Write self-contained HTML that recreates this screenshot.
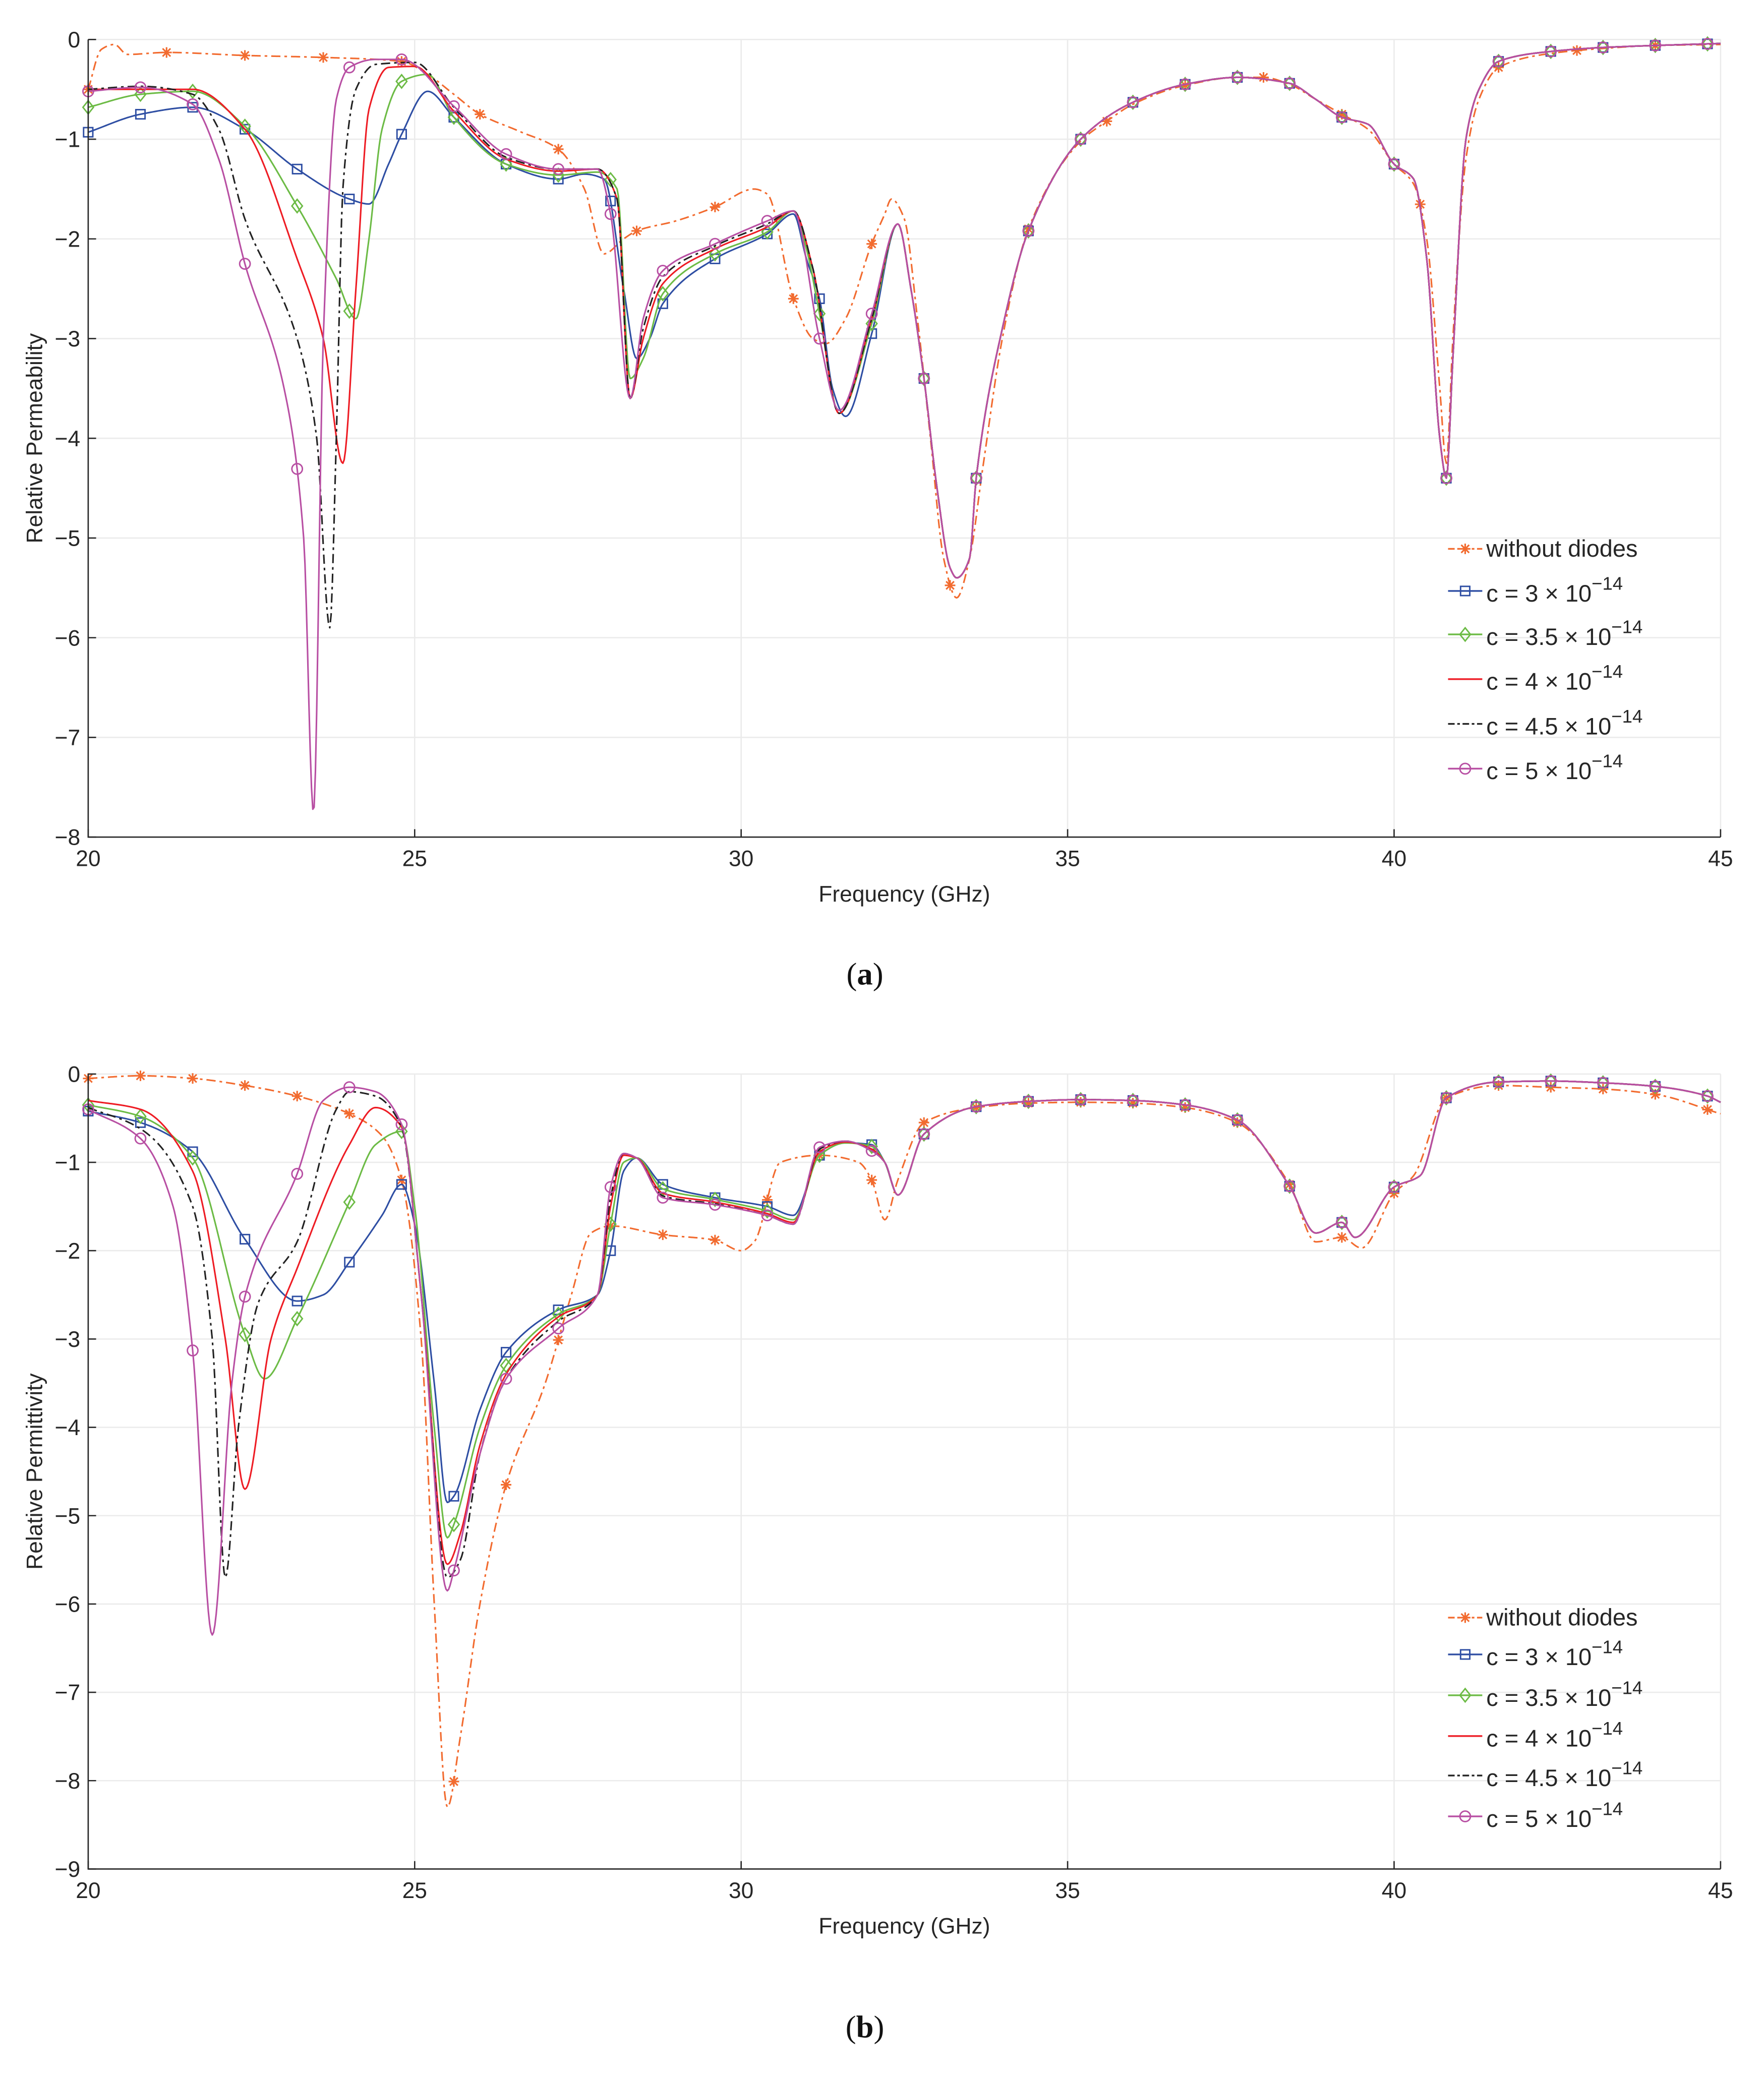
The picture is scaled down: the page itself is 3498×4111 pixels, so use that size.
<!DOCTYPE html>
<html><head><meta charset="utf-8"><style>
html,body{margin:0;padding:0;background:#fff;}
svg{display:block;}
text{font-family:"Liberation Sans",Arial,sans-serif;}
text.cap{font-family:"Liberation Serif",serif;}
</style></head><body>
<svg id="fig" width="3498" height="4111" viewBox="0 0 1340 1575" preserveAspectRatio="none" xmlns="http://www.w3.org/2000/svg"></svg>
<script>
// ---------- DATA ----------
const xTicks = [20,25,30,35,40,45];
const yTicksA = [0,-1,-2,-3,-4,-5,-6,-7,-8];
const yTicksB = [0,-1,-2,-3,-4,-5,-6,-7,-8,-9];
const seriesNames = ["without diodes","c = 3 × 10","c = 3.5 × 10","c = 4 × 10","c = 4.5 × 10","c = 5 × 10"];

const tailA = [[32.4,-1.85],[32.6,-2.5],[32.8,-3.4],[33,-4.5],[33.2,-5.3],[33.3,-5.4],[33.5,-5.2],[33.6,-4.4],[34,-2.9],[34.4,-1.92],[35.2,-1.0],[36,-0.63],[36.8,-0.45],[37.6,-0.38],[38.4,-0.44],[38.8,-0.6],[39.2,-0.78],[39.6,-0.85],[40,-1.25],[40.3,-1.4],[40.5,-2.2],[40.7,-4.0],[40.8,-4.4],[40.9,-3.2],[41.1,-1.0],[41.3,-0.5],[41.6,-0.22],[42.4,-0.12],[43.2,-0.08],[44,-0.06],[45,-0.04]];
const muNoDiode = [[20,-0.5],[20.2,-0.1],[20.4,-0.05],[20.6,-0.15],[21.2,-0.13],[22.4,-0.16],[23.6,-0.18],[24.8,-0.22],[25.2,-0.35],[25.6,-0.55],[26,-0.75],[26.6,-0.92],[27.2,-1.1],[27.6,-1.5],[27.9,-2.15],[28.2,-2.0],[28.4,-1.92],[29,-1.82],[29.6,-1.68],[30.2,-1.5],[30.4,-1.55],[30.8,-2.6],[31.1,-3.0],[31.3,-3.05],[31.6,-2.8],[32,-2.05],[32.2,-1.75],[32.3,-1.6],[32.5,-1.8],[32.7,-2.8],[32.9,-4.0],[33.1,-5.2],[33.3,-5.6],[33.5,-5.2],[33.7,-4.3],[34,-3.0],[34.4,-1.9],[35.2,-1.02],[35.6,-0.82],[36,-0.65],[36.8,-0.46],[37.6,-0.38],[38,-0.38],[38.4,-0.45],[38.8,-0.6],[39.2,-0.75],[39.6,-0.9],[40,-1.25],[40.3,-1.45],[40.5,-2.0],[40.7,-3.5],[40.8,-4.25],[40.9,-3.0],[41.1,-1.2],[41.3,-0.6],[41.6,-0.28],[42.4,-0.14],[43.2,-0.09],[44,-0.06],[45,-0.05]];
const muC3 = [[20,-0.93],[20.8,-0.75],[21.6,-0.68],[22.4,-0.9],[23.2,-1.3],[24,-1.6],[24.3,-1.65],[24.6,-1.25],[24.8,-0.95],[25.2,-0.52],[25.6,-0.78],[26.4,-1.25],[27.2,-1.4],[27.6,-1.35],[27.9,-1.4],[28.2,-2.5],[28.4,-3.2],[28.6,-3.0],[28.8,-2.65],[29.6,-2.2],[30.4,-1.95],[30.8,-1.75],[31,-2.2],[31.2,-2.6],[31.4,-3.5],[31.6,-3.78],[32,-2.95]];
const muC35 = [[20,-0.68],[20.8,-0.55],[21.6,-0.52],[22.4,-0.87],[23.2,-1.67],[23.8,-2.4],[24.1,-2.8],[24.3,-2.0],[24.5,-0.9],[24.8,-0.42],[25.2,-0.35],[25.6,-0.78],[26.4,-1.25],[27.2,-1.36],[27.8,-1.33],[28.1,-1.5],[28.3,-3.4],[28.5,-3.2],[28.8,-2.55],[29.6,-2.15],[30.4,-1.93],[30.8,-1.72],[31,-2.1],[31.2,-2.75],[31.5,-3.75],[32,-2.85]];
const muC4 = [[20,-0.5],[21.6,-0.5],[22.4,-0.9],[23.2,-2.2],[23.6,-3.0],[23.9,-4.25],[24.1,-2.5],[24.3,-0.7],[24.6,-0.28],[25,-0.27],[25.6,-0.72],[26.4,-1.2],[27.2,-1.32],[27.8,-1.3],[28.1,-1.6],[28.3,-3.6],[28.5,-3.0],[28.8,-2.45],[29.6,-2.1],[30.4,-1.88],[30.8,-1.72],[31.1,-2.3],[31.5,-3.75],[32,-2.8]];
const muC45 = [[20,-0.5],[20.8,-0.47],[21.6,-0.55],[22,-0.9],[22.4,-1.8],[23.2,-3.0],[23.5,-4.0],[23.7,-5.9],[23.8,-4.0],[23.9,-1.5],[24.1,-0.5],[24.4,-0.25],[25,-0.23],[25.6,-0.68],[26.4,-1.18],[27.2,-1.3],[27.8,-1.3],[28.1,-1.6],[28.3,-3.6],[28.5,-2.9],[28.8,-2.38],[29.6,-2.07],[30.4,-1.85],[30.8,-1.72],[31.1,-2.3],[31.5,-3.75],[32,-2.8]];
const muC5 = [[20,-0.52],[20.8,-0.48],[21.6,-0.65],[22,-1.2],[22.4,-2.25],[23,-3.5],[23.3,-5.0],[23.45,-7.75],[23.6,-3.0],[23.8,-0.6],[24,-0.28],[24.4,-0.2],[24.8,-0.2],[25.6,-0.67],[26.4,-1.15],[27.2,-1.3],[27.8,-1.3],[28,-1.75],[28.3,-3.6],[28.5,-2.8],[28.8,-2.32],[29.6,-2.05],[30.4,-1.82],[30.8,-1.72],[31.2,-3.0],[31.5,-3.72],[32,-2.75]];

const tailB = [[32.4,-1.37],[32.8,-0.68],[33.6,-0.37],[34.4,-0.31],[35.2,-0.29],[36,-0.3],[36.8,-0.35],[37.6,-0.52],[38.4,-1.27],[38.8,-1.8],[39.2,-1.68],[39.4,-1.85],[40,-1.28],[40.4,-1.15],[40.8,-0.27],[41.6,-0.09],[42.4,-0.08],[43.2,-0.1],[44,-0.14],[44.8,-0.25],[45,-0.32]];
const epsNoDiode = [[20,-0.05],[20.8,-0.02],[21.6,-0.05],[22.4,-0.13],[23.2,-0.25],[24,-0.45],[24.5,-0.7],[24.8,-1.2],[25.1,-3.0],[25.3,-6.0],[25.5,-8.3],[25.7,-7.5],[26,-6.0],[26.4,-4.65],[27,-3.5],[27.4,-2.5],[27.7,-1.8],[28,-1.72],[28.8,-1.82],[29.6,-1.88],[30,-2.0],[30.2,-1.9],[30.6,-1.0],[31.2,-0.92],[31.8,-1.0],[32,-1.2],[32.2,-1.65],[32.4,-1.2],[32.8,-0.55],[33.6,-0.38],[34.4,-0.33],[35.2,-0.32],[36,-0.33],[36.8,-0.38],[37.6,-0.55],[38.4,-1.25],[38.8,-1.9],[39.2,-1.85],[39.5,-1.97],[40,-1.35],[40.3,-1.15],[40.8,-0.27],[41.6,-0.13],[42.4,-0.15],[43.2,-0.17],[44,-0.23],[45,-0.45]];
const epsC3 = [[20,-0.42],[20.8,-0.55],[21.6,-0.88],[22.4,-1.87],[23.2,-2.57],[23.6,-2.5],[24,-2.13],[24.5,-1.6],[24.8,-1.25],[25,-1.7],[25.3,-3.5],[25.5,-4.85],[25.6,-4.78],[26,-3.8],[26.4,-3.15],[27.2,-2.67],[27.8,-2.5],[28,-2.0],[28.2,-1.1],[28.4,-0.95],[28.8,-1.25],[29.6,-1.4],[30.4,-1.5],[30.8,-1.6],[31.2,-0.92],[31.6,-0.78],[32,-0.8],[32.2,-1.0]];
const epsC35 = [[20,-0.35],[20.8,-0.48],[21.6,-0.95],[22.4,-2.95],[22.7,-3.45],[23.2,-2.77],[24,-1.45],[24.4,-0.8],[24.8,-0.65],[25,-1.5],[25.3,-4.0],[25.5,-5.25],[25.6,-5.1],[26,-4.0],[26.4,-3.3],[27.2,-2.72],[27.8,-2.5],[28,-1.7],[28.2,-1.0],[28.4,-0.95],[28.8,-1.3],[29.6,-1.42],[30.4,-1.55],[30.8,-1.65],[31.2,-0.92],[31.6,-0.78],[32,-0.82],[32.2,-1.0]];
const epsC4 = [[20,-0.3],[20.8,-0.4],[21.6,-1.1],[22.1,-3.0],[22.4,-4.7],[22.8,-3.0],[23.2,-2.2],[24,-0.8],[24.4,-0.38],[24.8,-0.6],[25.1,-2.5],[25.5,-5.55],[25.7,-5.2],[26,-4.2],[26.4,-3.4],[27.2,-2.75],[27.8,-2.5],[28,-1.5],[28.2,-0.92],[28.4,-0.95],[28.8,-1.35],[29.6,-1.45],[30.4,-1.58],[30.8,-1.68],[31.2,-0.88],[31.6,-0.77],[32,-0.85],[32.2,-1.0]];
const epsC45 = [[20,-0.38],[20.8,-0.62],[21.6,-1.5],[21.9,-3.0],[22.1,-5.7],[22.3,-4.0],[22.6,-2.6],[23.2,-1.9],[23.8,-0.4],[24,-0.2],[24.4,-0.25],[24.8,-0.6],[25.1,-2.5],[25.5,-5.7],[25.7,-5.5],[26,-4.3],[26.4,-3.45],[27.2,-2.8],[27.8,-2.5],[28,-1.4],[28.2,-0.9],[28.4,-0.95],[28.8,-1.38],[29.6,-1.47],[30.4,-1.6],[30.8,-1.7],[31.2,-0.85],[31.6,-0.76],[32,-0.87],[32.2,-1.0]];
const epsC5 = [[20,-0.4],[20.8,-0.73],[21.3,-1.5],[21.6,-3.13],[21.9,-6.35],[22.2,-3.5],[22.4,-2.52],[23.2,-1.13],[23.6,-0.3],[24,-0.15],[24.4,-0.2],[24.8,-0.57],[25.1,-2.5],[25.5,-5.85],[25.6,-5.62],[26,-4.3],[26.4,-3.45],[27.2,-2.88],[27.8,-2.5],[28,-1.28],[28.2,-0.9],[28.4,-0.95],[28.8,-1.4],[29.6,-1.48],[30.4,-1.6],[30.8,-1.7],[31.2,-0.83],[31.6,-0.76],[32,-0.87],[32.2,-1.0]];

// ---------- DRAWING ----------
const NS = "http://www.w3.org/2000/svg";
const svg = document.getElementById('fig');
function mk(tag, attrs, parent){const e=document.createElementNS(NS,tag);for(const k in attrs)e.setAttribute(k,attrs[k]);(parent||svg).appendChild(e);return e;}
const styles = [
 {color:"#f26b2f", dash:"7,3,2,3", marker:"star", name:"without-diodes"},
 {color:"#2e4ea3", dash:"", marker:"square", name:"c-3e-14"},
 {color:"#6cbb45", dash:"", marker:"diamond", name:"c-3.5e-14"},
 {color:"#ee1c24", dash:"", marker:"none", name:"c-4e-14"},
 {color:"#222222", dash:"7,3,2,3", marker:"none", name:"c-4.5e-14"},
 {color:"#b84fa3", dash:"", marker:"circle", name:"c-5e-14"}
];
// monotone cubic (Fritsch-Carlson)
function slopes(d){
  const n=d.length,dl=[],m=new Array(n);
  for(let i=0;i<n-1;i++)dl.push((d[i+1][1]-d[i][1])/(d[i+1][0]-d[i][0]));
  m[0]=dl[0];m[n-1]=dl[n-2];
  for(let i=1;i<n-1;i++){
    if(dl[i-1]*dl[i]<=0)m[i]=0;
    else{const h0=d[i][0]-d[i-1][0],h1=d[i+1][0]-d[i][0];const w1=2*h1+h0,w2=h1+2*h0;m[i]=(w1+w2)/(w1/dl[i-1]+w2/dl[i]);}
  }
  return m;
}
function interp(d,f){
  const m=slopes(d);
  for(let i=0;i<d.length-1;i++){if(f>=d[i][0]&&f<=d[i+1][0]){
    const h=d[i+1][0]-d[i][0],t=(f-d[i][0])/h,t2=t*t,t3=t2*t;
    return (2*t3-3*t2+1)*d[i][1]+(t3-2*t2+t)*h*m[i]+(-2*t3+3*t2)*d[i+1][1]+(t3-t2)*h*m[i+1];}}
  return d[d.length-1][1];
}
function marker(g,type,x,y,c){
  if(type==="square"){const e=mk('rect',{x:x-3.5,y:y-3.5,width:7,height:7,fill:'none',stroke:c,'stroke-width':1.1},g);}
  else if(type==="diamond"){const e=mk('path',{d:`M${x},${y-5}L${x+4},${y}L${x},${y+5}L${x-4},${y}Z`,fill:'none',stroke:c,'stroke-width':1.1},g);}
  else if(type==="circle"){const e=mk('circle',{cx:x,cy:y,r:4,fill:'none',stroke:c,'stroke-width':1.1},g);}
  else if(type==="star"){const e=mk('path',{d:`M${x-4},${y}H${x+4}M${x},${y-4}V${y+4}M${x-3},${y-3}L${x+3},${y+3}M${x-3},${y+3}L${x+3},${y-3}`,stroke:c,'stroke-width':1.2},g);}
}
function drawPanel(cfg){
  const L=67,R=1307,T=cfg.top,B=cfg.bottom,ymin=cfg.ymin;
  const X=f=>L+(f-20)/25*(R-L);
  const Y=v=>T+(v/ymin)*(B-T);
  const g=mk('g',{});
  
  
  xTicks.forEach(t=>{const l=mk('line',{x1:X(t),x2:X(t),y1:T,y2:B,stroke:'#ebebeb','stroke-width':1},g);});
  cfg.yTicks.forEach(t=>{const l=mk('line',{x1:L,x2:R,y1:Y(t),y2:Y(t),stroke:'#ebebeb','stroke-width':1},g);});
  cfg.series.forEach((d,i)=>{
    const s=styles[i];
    const pts=[];
    for(let f=20;f<=45.0001;f+=0.02)pts.push(X(f).toFixed(2)+','+Y(interp(d,f)).toFixed(2));
    const pl=mk('polyline',{points:pts.join(' '),fill:'none',stroke:s.color,'stroke-width':1.2,'stroke-dasharray':s.dash,'stroke-linejoin':'round'},g);
    
    
    if(s.marker!=="none"){
      const step=(i===0)?cfg.orangeStep:0.8;
      for(let f=20;f<=45.001;f+=step){marker(g,s.marker,X(f),Y(interp(d,f)),s.color);}
    }
  });
  const ax=mk('path',{d:`M${L},${T}V${B}H${R}`,fill:'none',stroke:'#262626','stroke-width':1},g);
  
  xTicks.forEach(t=>{
    mk('line',{x1:X(t),x2:X(t),y1:B,y2:B-6,stroke:'#262626'},g);
    const tx=mk('text',{x:X(t),y:B+22,'font-size':17,'text-anchor':'middle',fill:'#262626'},g);tx.textContent=t;
    
  });
  cfg.yTicks.forEach(t=>{
    mk('line',{x1:L,x2:L+6,y1:Y(t),y2:Y(t),stroke:'#262626'},g);
    const tx=mk('text',{x:L-6,y:Y(t)+6,'font-size':17,'text-anchor':'end',fill:'#262626'},g);tx.textContent=(t<0?'\u2212'+(-t):t);
    
  });
  const xl=mk('text',{x:(L+R)/2,y:B+49,'font-size':17,'text-anchor':'middle',fill:'#262626'},g);xl.textContent='Frequency (GHz)';
  
  const yl=mk('text',{x:0,y:0,'font-size':17,'text-anchor':'middle',fill:'#262626',transform:`translate(32,${(T+B)/2}) rotate(-90)`},g);yl.textContent=cfg.ylabel;
  
  const lg=mk('g',{},g);
  
  cfg.legendY.forEach((ly,i)=>{
    const s=styles[i];
    const e=mk('g',{},lg);
    
    mk('line',{x1:1100,x2:1126,y1:ly,y2:ly,stroke:s.color,'stroke-width':1.3,'stroke-dasharray':s.dash?'5,2,2,2':''},e);
    if(s.marker!=="none")marker(e,s.marker,1113,ly,s.color);
    const tx=mk('text',{x:1129,y:ly+(i===0?6:8),'font-size':18,fill:'#262626'},e);
    if(i===0){tx.textContent=seriesNames[0];}
    else{tx.textContent=seriesNames[i];const sp=mk('tspan',{dy:-9,'font-size':14},tx);sp.textContent='\u221214';}
  });
}
drawPanel({name:'permeability-chart',top:30,bottom:636,ymin:-8,yTicks:yTicksA,ylabel:'Relative Permeability',orangeStep:1.2,
  series:[muNoDiode,muC3.concat(tailA),muC35.concat(tailA),muC4.concat(tailA),muC45.concat(tailA),muC5.concat(tailA)],
  legendY:[417,449,482,516,550,584]});
drawPanel({name:'permittivity-chart',top:816,bottom:1420,ymin:-9,yTicks:yTicksB,ylabel:'Relative Permittivity',orangeStep:0.8,
  series:[epsNoDiode,epsC3.concat(tailB),epsC35.concat(tailB),epsC4.concat(tailB),epsC45.concat(tailB),epsC5.concat(tailB)],
  legendY:[1229,1257,1288,1319,1349,1380]});
const ca=mk('text',{x:657,y:748,'font-size':24,'text-anchor':'middle',fill:'#111','class':'cap'});

ca.appendChild(document.createTextNode('('));
mk('tspan',{'font-weight':'bold'},ca).textContent='a';
ca.appendChild(document.createTextNode(')'));
const cb=mk('text',{x:657,y:1548,'font-size':24,'text-anchor':'middle',fill:'#111','class':'cap'});

cb.appendChild(document.createTextNode('('));
mk('tspan',{'font-weight':'bold'},cb).textContent='b';
cb.appendChild(document.createTextNode(')'));
</script>
</body></html>
